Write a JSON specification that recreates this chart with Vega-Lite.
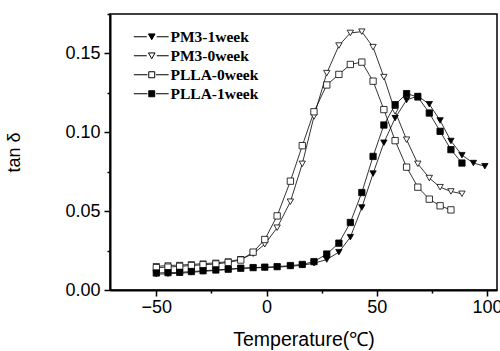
{
  "$schema": "https://vega.github.io/schema/vega-lite/v6.json",
  "width": 387,
  "height": 276,
  "autosize": {"type": "none"},
  "padding": {"left": 110, "top": 14, "right": 3, "bottom": 61},
  "background": "white",
  "config": {"view": {"stroke": "black", "strokeWidth": 1.5}, "font": "Liberation Sans"},
  "data": {"values": [
    {"s":"PM3-0week","t":-50,"v":0.0150},{"s":"PM3-0week","t":-44.7,"v":0.0155},{"s":"PM3-0week","t":-39.4,"v":0.0158},{"s":"PM3-0week","t":-34.1,"v":0.0162},{"s":"PM3-0week","t":-28.8,"v":0.0167},{"s":"PM3-0week","t":-23,"v":0.0172},{"s":"PM3-0week","t":-17.4,"v":0.0180},{"s":"PM3-0week","t":-11.7,"v":0.0195},{"s":"PM3-0week","t":-6.1,"v":0.0230},{"s":"PM3-0week","t":-0.8,"v":0.0290},{"s":"PM3-0week","t":4.8,"v":0.0395},{"s":"PM3-0week","t":10.8,"v":0.0560},{"s":"PM3-0week","t":16.2,"v":0.0800},{"s":"PM3-0week","t":21.5,"v":0.1100},{"s":"PM3-0week","t":27.3,"v":0.1375},{"s":"PM3-0week","t":32.8,"v":0.1550},{"s":"PM3-0week","t":38,"v":0.1630},{"s":"PM3-0week","t":43.2,"v":0.1638},{"s":"PM3-0week","t":48.3,"v":0.1540},{"s":"PM3-0week","t":53.2,"v":0.1350},{"s":"PM3-0week","t":58.3,"v":0.1133},{"s":"PM3-0week","t":63.5,"v":0.0953},{"s":"PM3-0week","t":68.6,"v":0.0800},{"s":"PM3-0week","t":73.8,"v":0.0710},{"s":"PM3-0week","t":78.7,"v":0.0652},{"s":"PM3-0week","t":83.6,"v":0.0625},{"s":"PM3-0week","t":88.6,"v":0.0610},
    {"s":"PLLA-0week","t":-50,"v":0.0142},{"s":"PLLA-0week","t":-44.7,"v":0.0145},{"s":"PLLA-0week","t":-39.4,"v":0.0150},{"s":"PLLA-0week","t":-34.1,"v":0.0155},{"s":"PLLA-0week","t":-28.8,"v":0.0160},{"s":"PLLA-0week","t":-23,"v":0.0165},{"s":"PLLA-0week","t":-17.4,"v":0.0175},{"s":"PLLA-0week","t":-11.7,"v":0.0190},{"s":"PLLA-0week","t":-6.1,"v":0.0240},{"s":"PLLA-0week","t":-0.8,"v":0.0320},{"s":"PLLA-0week","t":4.8,"v":0.0470},{"s":"PLLA-0week","t":10.8,"v":0.0690},{"s":"PLLA-0week","t":16.2,"v":0.0915},{"s":"PLLA-0week","t":21.5,"v":0.1130},{"s":"PLLA-0week","t":27.3,"v":0.1300},{"s":"PLLA-0week","t":32.8,"v":0.1367},{"s":"PLLA-0week","t":38,"v":0.1430},{"s":"PLLA-0week","t":43.2,"v":0.1445},{"s":"PLLA-0week","t":48.3,"v":0.1324},{"s":"PLLA-0week","t":53.2,"v":0.1144},{"s":"PLLA-0week","t":58.3,"v":0.0947},{"s":"PLLA-0week","t":63.5,"v":0.0779},{"s":"PLLA-0week","t":68.6,"v":0.0652},{"s":"PLLA-0week","t":73.8,"v":0.0576},{"s":"PLLA-0week","t":78.7,"v":0.0534},{"s":"PLLA-0week","t":83.6,"v":0.0508},
    {"s":"PM3-1week","t":-50,"v":0.0100},{"s":"PM3-1week","t":-44.7,"v":0.0103},{"s":"PM3-1week","t":-39.4,"v":0.0106},{"s":"PM3-1week","t":-34.1,"v":0.0112},{"s":"PM3-1week","t":-28.8,"v":0.0118},{"s":"PM3-1week","t":-23,"v":0.0124},{"s":"PM3-1week","t":-17.4,"v":0.0130},{"s":"PM3-1week","t":-11.7,"v":0.0137},{"s":"PM3-1week","t":-6.1,"v":0.0140},{"s":"PM3-1week","t":-0.8,"v":0.0142},{"s":"PM3-1week","t":4.8,"v":0.0145},{"s":"PM3-1week","t":10.8,"v":0.0150},{"s":"PM3-1week","t":16.2,"v":0.0157},{"s":"PM3-1week","t":21.5,"v":0.0170},{"s":"PM3-1week","t":27.3,"v":0.0193},{"s":"PM3-1week","t":32.8,"v":0.0240},{"s":"PM3-1week","t":38,"v":0.0335},{"s":"PM3-1week","t":43.2,"v":0.0523},{"s":"PM3-1week","t":48.3,"v":0.0738},{"s":"PM3-1week","t":53.2,"v":0.0934},{"s":"PM3-1week","t":58.3,"v":0.1090},{"s":"PM3-1week","t":63.5,"v":0.1205},{"s":"PM3-1week","t":68.6,"v":0.1230},{"s":"PM3-1week","t":73.8,"v":0.1178},{"s":"PM3-1week","t":78.7,"v":0.1075},{"s":"PM3-1week","t":83.6,"v":0.0945},{"s":"PM3-1week","t":88.6,"v":0.0855},{"s":"PM3-1week","t":93.8,"v":0.0805},{"s":"PM3-1week","t":99,"v":0.0785},
    {"s":"PLLA-1week","t":-50,"v":0.0108},{"s":"PLLA-1week","t":-44.7,"v":0.0110},{"s":"PLLA-1week","t":-39.4,"v":0.0112},{"s":"PLLA-1week","t":-34.1,"v":0.0117},{"s":"PLLA-1week","t":-28.8,"v":0.0122},{"s":"PLLA-1week","t":-23,"v":0.0127},{"s":"PLLA-1week","t":-17.4,"v":0.0132},{"s":"PLLA-1week","t":-11.7,"v":0.0138},{"s":"PLLA-1week","t":-6.1,"v":0.0142},{"s":"PLLA-1week","t":-0.8,"v":0.0145},{"s":"PLLA-1week","t":4.8,"v":0.0148},{"s":"PLLA-1week","t":10.8,"v":0.0155},{"s":"PLLA-1week","t":16.2,"v":0.0162},{"s":"PLLA-1week","t":21.5,"v":0.0180},{"s":"PLLA-1week","t":27.3,"v":0.0228},{"s":"PLLA-1week","t":32.8,"v":0.0297},{"s":"PLLA-1week","t":38,"v":0.0428},{"s":"PLLA-1week","t":43.2,"v":0.0618},{"s":"PLLA-1week","t":48.3,"v":0.0847},{"s":"PLLA-1week","t":53.2,"v":0.1046},{"s":"PLLA-1week","t":58.3,"v":0.1175},{"s":"PLLA-1week","t":63.5,"v":0.1245},{"s":"PLLA-1week","t":68.6,"v":0.1224},{"s":"PLLA-1week","t":73.8,"v":0.1122},{"s":"PLLA-1week","t":78.7,"v":0.1006},{"s":"PLLA-1week","t":83.6,"v":0.0890},{"s":"PLLA-1week","t":88.6,"v":0.0805}
  ]},
  "encoding": {
    "x": {"field": "t", "type": "quantitative",
      "scale": {"domain": [-71, 104.5], "nice": false, "zero": false},
      "axis": {
        "values": [-50, -25, 0, 25, 50, 75, 100],
        "labelExpr": "datum.value % 50 === 0 ? datum.label : ''",
        "tickSize": {"condition": {"test": "datum.value % 50 === 0", "value": 6}, "value": 3},
        "tickColor": "black", "tickWidth": 1.5, "domainColor": "black", "domainWidth": 2,
        "labelFont": "Liberation Sans", "labelFontSize": 18, "labelColor": "black", "labelPadding": 2, "labelFlush": false,
        "grid": false, "title": "Temperature(℃)", "titleFont": "Liberation Sans", "titleFontSize": 19.5,
        "titleFontWeight": "normal", "titleColor": "black", "titlePadding": 14
      }},
    "y": {"field": "v", "type": "quantitative",
      "scale": {"domain": [0, 0.175], "nice": false},
      "axis": {
        "values": [0, 0.025, 0.05, 0.075, 0.1, 0.125, 0.15, 0.175],
        "format": ".2f",
        "labelExpr": "abs(datum.value * 20 - round(datum.value * 20)) < 1e-6 ? datum.label : ''",
        "tickSize": {"condition": {"test": "abs(datum.value * 20 - round(datum.value * 20)) < 1e-6", "value": 6}, "value": 3},
        "tickColor": "black", "tickWidth": 1.5, "domainColor": "black", "domainWidth": 2,
        "labelFont": "Liberation Sans", "labelFontSize": 18, "labelColor": "black", "labelPadding": 4, "labelFlush": false,
        "grid": false, "title": "tan δ", "titleFont": "Liberation Sans", "titleFontSize": 18,
        "titleFontWeight": "normal", "titleColor": "black", "titlePadding": 41
      }}
  },
  "layer": [
    {"mark": {"type": "line", "color": "black", "strokeWidth": 0.8},
     "encoding": {"detail": {"field": "s"}}},
    {"mark": {"type": "point", "filled": true, "stroke": "black", "strokeWidth": 1, "size": 0, "opacity": 1},
     "encoding": {
       "shape": {"field": "s", "type": "nominal",
         "scale": {"domain": ["PM3-1week", "PM3-0week", "PLLA-0week", "PLLA-1week"],
           "range": [
             "M-5.4,0H-1.5M1.5,0H5.1M-1,-0.85L1,-0.85L0,0.9Z",
             "M-5.4,0H-1.5M1.5,0H5.1M-1,-0.85L1,-0.85L0,0.9Z",
             "M-5.4,0H-1.3M1.3,0H5.1M-0.9,-0.9H0.9V0.9H-0.9Z",
             "M-5.4,0H-1.3M1.3,0H5.1M-0.9,-0.9H0.9V0.9H-0.9Z"]},
         "legend": {
           "orient": "none", "legendX": 16, "legendY": 15, "title": null, "padding": 0,
           "symbolSize": 44, "symbolStrokeWidth": 1, "symbolOpacity": 1,
           "symbolOffset": 18, "labelOffset": 11, "rowPadding": 2,
           "labelFont": "Liberation Serif", "labelFontWeight": "bold", "labelFontSize": 15.5, "labelColor": "black"
         }},
       "fill": {"field": "s", "type": "nominal",
         "scale": {"domain": ["PM3-1week", "PM3-0week", "PLLA-0week", "PLLA-1week"],
           "range": ["black", "white", "white", "black"]},
         "legend": {
           "orient": "none", "legendX": 16, "legendY": 15, "title": null, "padding": 0,
           "symbolSize": 44, "symbolStrokeWidth": 1, "symbolOpacity": 1,
           "symbolOffset": 18, "labelOffset": 11, "rowPadding": 2,
           "labelFont": "Liberation Serif", "labelFontWeight": "bold", "labelFontSize": 15.5, "labelColor": "black"
         }}
     }},
    {"mark": {"type": "point", "filled": true, "stroke": "black", "strokeWidth": 0.8, "opacity": 1, "size": 40},
     "encoding": {
       "shape": {"field": "s", "type": "nominal",
         "scale": {"domain": ["PM3-1week", "PM3-0week", "PLLA-0week", "PLLA-1week"],
           "range": ["triangle-down", "triangle-down", "square", "square"]},
         "legend": null},
       "fill": {"field": "s", "type": "nominal",
         "scale": {"domain": ["PM3-1week", "PM3-0week", "PLLA-0week", "PLLA-1week"],
           "range": ["black", "white", "white", "black"]},
         "legend": null}
     }}
  ],
  "resolve": {"scale": {"shape": "independent", "fill": "independent"}}
}
